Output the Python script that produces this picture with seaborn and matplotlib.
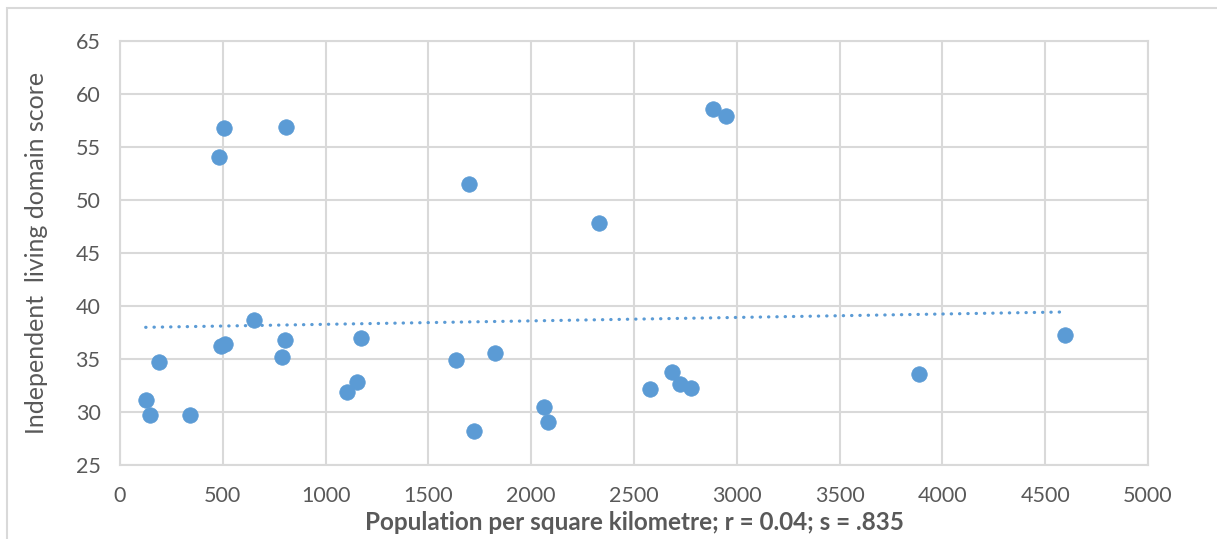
import numpy as np
import pandas as pd
import matplotlib
matplotlib.use('Agg')
import matplotlib.pyplot as plt
import seaborn as sns
from matplotlib.patches import Rectangle


density = [125, 146, 191, 342, 480, 491, 505, 512, 650, 790,
           803, 805, 1103, 1151, 1171, 1633, 1696, 1720, 1825, 2060,
           2080, 2329, 2579, 2684, 2724, 2778, 2883, 2946, 3887, 4597]
score = [31.1, 29.7, 34.7, 29.7, 54.1, 36.2, 56.8, 36.4, 38.7, 35.2,
         36.8, 56.9, 31.9, 32.8, 37.0, 34.9, 51.5, 28.2, 35.6, 30.5,
         29.1, 47.8, 32.2, 33.8, 32.6, 32.3, 58.6, 57.9, 33.6, 37.3]

x_ticks = [0, 500, 1000, 1500, 2000, 2500, 3000, 3500, 4000, 4500, 5000]
y_ticks = [25, 30, 35, 40, 45, 50, 55, 60, 65]

df = pd.DataFrame({'density': density, 'score': score})

blue = '#5b9bd5'
grey_text = '#595959'
grid_col = '#d9d9d9'

sns.set_style('white')
plt.rcParams['font.family'] = ['Lato', 'DejaVu Sans']

fig = plt.figure(figsize=(12.17, 5.39), dpi=100)
ax = fig.add_axes([120 / 1217, 1 - 465 / 539, (1148 - 120) / 1217, (465 - 41) / 539])

# outer chart frame
fig.patches.append(Rectangle((7 / 1217, -0.1), 1.2, 1 - 8 / 539 + 0.1, transform=fig.transFigure,
                             fill=False, edgecolor=grid_col, linewidth=1.5, zorder=0))

sns.regplot(data=df, x='density', y='score', scatter=False, ci=None, ax=ax,
            line_kws={'color': blue, 'linestyle': (0, (0.1, 2.5)), 'linewidth': 2.3,
                      'dash_capstyle': 'round'})
sns.scatterplot(data=df, x='density', y='score', ax=ax, s=125, color=blue,
                edgecolor=blue, linewidth=0.5, zorder=3)

ax.set_xlim(0, 5000)
ax.set_ylim(25, 65)
ax.set_xticks(x_ticks)
ax.set_yticks(y_ticks)
ax.grid(True, color=grid_col, linewidth=1.5)
ax.set_axisbelow(True)
for sp in ax.spines.values():
    sp.set_color(grid_col)
    sp.set_linewidth(1.5)

ax.tick_params(axis='both', length=0, labelsize=15.5, labelcolor=grey_text)
ax.tick_params(axis='y', pad=14)
ax.tick_params(axis='x', pad=15)

ax.set_xlabel('Population per square kilometre; r = 0.04; s = .835', fontsize=17.5,
              fontweight='bold', color=grey_text, labelpad=4)
ax.set_ylabel('Independent  living domain score', fontsize=18, color=grey_text, labelpad=20)

fig.savefig('out.png', dpi=100)
